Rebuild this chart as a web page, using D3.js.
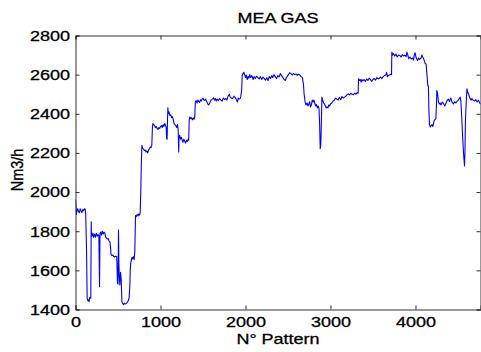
<!DOCTYPE html>
<html>
<head>
<meta charset="utf-8">
<script src="https://cdn.jsdelivr.net/npm/d3@7/dist/d3.min.js"></script>
<style>
  html, body { margin: 0; padding: 0; background: #fff; }
  svg { display: block; }
  text { font-family: "Liberation Sans", Arial, Helvetica, sans-serif; fill: #000; stroke: #000; stroke-width: 0.3px; }
</style>
</head>
<body>
<svg id="chart" width="481" height="352"></svg>
<script>
// MEA gas flow rate per pattern index
const patternIdx = [
  0, 5, 10, 16, 25, 35, 45, 55, 65, 75, 85, 95, 105, 114, 120, 126, 130, 137, 145, 152,
  160, 168, 175, 180, 185, 188, 195, 205, 215, 225, 235, 245, 255, 265, 275, 283, 288, 295, 305, 315,
  325, 335, 345, 355, 365, 375, 385, 395, 405, 412, 418, 428, 440, 455, 470, 485, 490, 494, 500, 506,
  510, 516, 522, 530, 538, 546, 555, 565, 575, 585, 595, 605, 615, 624, 632, 640, 644, 650, 656, 663,
  670, 680, 690, 698, 706, 715, 725, 735, 745, 755, 761, 768, 775, 781, 790, 800, 810, 820, 830, 840,
  850, 860, 870, 880, 890, 898, 905, 910, 920, 930, 940, 950, 960, 970, 980, 990, 1000, 1010, 1020, 1030,
  1040, 1050, 1060, 1067, 1072, 1078, 1083, 1087, 1092, 1100, 1110, 1120, 1130, 1140, 1150, 1160, 1170, 1180, 1190, 1200,
  1208, 1214, 1218, 1225, 1235, 1245, 1255, 1265, 1275, 1285, 1295, 1305, 1315, 1325, 1332, 1338, 1345, 1355, 1365, 1375,
  1385, 1395, 1403, 1410, 1420, 1430, 1440, 1450, 1460, 1470, 1480, 1490, 1500, 1510, 1520, 1530, 1545, 1555, 1565, 1575,
  1585, 1595, 1610, 1624, 1635, 1645, 1655, 1665, 1680, 1695, 1710, 1725, 1740, 1755, 1770, 1781, 1795, 1810, 1820, 1835,
  1850, 1865, 1880, 1895, 1905, 1915, 1925, 1938, 1945, 1955, 1961, 1970, 1980, 1990, 2000, 2010, 2020, 2030, 2040, 2050,
  2060, 2075, 2090, 2100, 2115, 2130, 2145, 2160, 2175, 2190, 2205, 2220, 2235, 2250, 2265, 2280, 2295, 2310, 2320, 2335,
  2350, 2365, 2380, 2395, 2410, 2425, 2440, 2455, 2470, 2480, 2490, 2505, 2520, 2535, 2550, 2565, 2580, 2595, 2610, 2625,
  2640, 2655, 2670, 2682, 2690, 2702, 2712, 2725, 2735, 2745, 2755, 2765, 2775, 2785, 2795, 2805, 2815, 2825, 2835, 2845,
  2855, 2865, 2872, 2879, 2885, 2890, 2895, 2899, 2910, 2920, 2930, 2940, 2950, 2960, 2970, 2980, 2990, 3000, 3015, 3030,
  3045, 3060, 3075, 3090, 3105, 3120, 3135, 3150, 3165, 3180, 3195, 3210, 3225, 3240, 3255, 3270, 3285, 3300, 3315, 3325,
  3330, 3340, 3350, 3360, 3370, 3380, 3395, 3410, 3425, 3440, 3455, 3470, 3485, 3500, 3515, 3530, 3545, 3560, 3575, 3590,
  3605, 3620, 3635, 3650, 3660, 3670, 3680, 3695, 3710, 3718, 3722, 3730, 3740, 3755, 3770, 3785, 3800, 3815, 3830, 3845,
  3860, 3875, 3890, 3900, 3910, 3920, 3935, 3950, 3965, 3977, 3985, 3995, 4005, 4015, 4025, 4035, 4050, 4065, 4075, 4085,
  4095, 4105, 4114, 4125, 4135, 4145, 4152, 4158, 4165, 4175, 4185, 4195, 4205, 4212, 4220, 4230, 4240, 4248, 4251, 4260,
  4270, 4280, 4290, 4300, 4315, 4330, 4345, 4360, 4375, 4388, 4400, 4415, 4430, 4445, 4460, 4475, 4490, 4505, 4515, 4526,
  4535, 4546, 4555, 4566, 4577, 4582, 4588, 4596, 4605, 4615, 4625, 4640, 4655, 4664, 4680, 4695, 4710, 4725, 4740, 4755,
  4770
];

const gasFlow = [
  1962, 1930, 1885, 1900, 1915, 1900, 1895, 1914, 1905, 1895, 1910, 1905, 1915, 1912, 1890, 1775, 1700, 1457, 1445, 1450,
  1440, 1462, 1460, 1458, 1848, 1780, 1775, 1790, 1768, 1785, 1770, 1790, 1775, 1782, 1778, 1516, 1790, 1795, 1780, 1800,
  1785, 1795, 1790, 1770, 1765, 1760, 1762, 1750, 1745, 1720, 1680, 1675, 1678, 1668, 1672, 1670, 1600, 1534, 1530, 1806,
  1640, 1560, 1525, 1590, 1550, 1440, 1430, 1425, 1432, 1428, 1430, 1435, 1440, 1448, 1465, 1530, 1600, 1640, 1650, 1665,
  1658, 1670, 1655, 1700, 1880, 1875, 1885, 1878, 1888, 1882, 1895, 2000, 2150, 2239, 2225, 2220, 2212, 2215, 2205, 2210,
  2200, 2215, 2222, 2230, 2228, 2240, 2330, 2350, 2345, 2340, 2330, 2335, 2325, 2320, 2330, 2325, 2335, 2340, 2330, 2345,
  2335, 2350, 2340, 2330, 2275, 2270, 2380, 2431, 2400, 2410, 2390, 2395, 2380, 2385, 2370, 2350, 2345, 2340, 2330, 2345,
  2320, 2205, 2280, 2290, 2270, 2280, 2265, 2255, 2270, 2260, 2250, 2265, 2258, 2270, 2265, 2370, 2383, 2375, 2380, 2370,
  2378, 2372, 2385, 2460, 2468, 2455, 2470, 2462, 2458, 2472, 2465, 2475, 2480, 2470, 2468, 2475, 2462, 2452, 2445, 2450,
  2462, 2470, 2475, 2482, 2470, 2478, 2465, 2475, 2468, 2478, 2470, 2465, 2480, 2472, 2478, 2470, 2490, 2500, 2485, 2480,
  2478, 2490, 2482, 2470, 2460, 2480, 2475, 2478, 2490, 2520, 2596, 2605, 2612, 2600, 2585, 2598, 2575, 2590, 2582, 2600,
  2585, 2595, 2575, 2590, 2580, 2592, 2584, 2578, 2590, 2575, 2588, 2580, 2572, 2584, 2570, 2590, 2580, 2595, 2585, 2600,
  2590, 2580, 2595, 2588, 2605, 2595, 2585, 2575, 2570, 2585, 2590, 2600, 2610, 2605, 2598, 2606, 2600, 2604, 2596, 2602,
  2598, 2590, 2585, 2550, 2500, 2460, 2445, 2455, 2440, 2450, 2462, 2435, 2445, 2470, 2460, 2470, 2455, 2440, 2448, 2430,
  2440, 2426, 2350, 2222, 2240, 2300, 2400, 2485, 2465, 2455, 2450, 2440, 2430, 2435, 2430, 2445, 2440, 2450, 2455, 2465,
  2470, 2480, 2475, 2470, 2485, 2472, 2488, 2480, 2485, 2490, 2498, 2502, 2496, 2505, 2500, 2498, 2505, 2500, 2508, 2505,
  2579, 2570, 2575, 2562, 2575, 2568, 2575, 2565, 2578, 2570, 2582, 2575, 2565, 2575, 2580, 2572, 2585, 2578, 2582, 2588,
  2580, 2590, 2595, 2598, 2612, 2590, 2595, 2598, 2602, 2600, 2715, 2700, 2708, 2695, 2705, 2690, 2700, 2698, 2690, 2702,
  2695, 2700, 2692, 2715, 2700, 2682, 2690, 2680, 2685, 2675, 2700, 2712, 2690, 2680, 2672, 2685, 2678, 2685, 2700, 2690,
  2682, 2670, 2656, 2656, 2600, 2545, 2540, 2420, 2345, 2332, 2340, 2345, 2335, 2350, 2365, 2370, 2375, 2460, 2519, 2505,
  2460, 2450, 2455, 2445, 2460, 2452, 2440, 2455, 2470, 2475, 2462, 2480, 2460, 2450, 2462, 2455, 2465, 2470, 2478, 2485,
  2460, 2366, 2280, 2196, 2134, 2200, 2366, 2450, 2528, 2510, 2500, 2480, 2470, 2478, 2468, 2465, 2472, 2460, 2470, 2455,
  2450
];

const xTicks = [0, 1000, 2000, 3000, 4000];
const yTicks = [1400, 1600, 1800, 2000, 2200, 2400, 2600, 2800];
const xDomain = [0, 4765];
const yDomain = [1400, 2800];

const titleText = "MEA GAS";
const xLabel = "N° Pattern";
const yLabel = "Nm3/h";

const svg = d3.select("#chart");
const box = { left: 75.5, right: 480.5, top: 35.5, bottom: 309.5 };
const stretch = 1.2; // horizontal widening of the label glyphs
const axisColor = "#333";

const x = d3.scaleLinear().domain(xDomain).range([box.left, box.right]);
const y = d3.scaleLinear().domain(yDomain).range([box.bottom, box.top]);

const points = patternIdx.map((p, i) => [p, gasFlow[i]]);

// data line, clipped to the axes box
svg.append("clipPath").attr("id", "plotClip")
  .append("rect").attr("x", box.left).attr("y", box.top - 1)
  .attr("width", box.right - box.left).attr("height", box.bottom - box.top + 2);

svg.append("path")
  .datum(points)
  .attr("clip-path", "url(#plotClip)")
  .attr("fill", "none")
  .attr("stroke", "#0000ff")
  .attr("stroke-width", 1.1)
  .attr("stroke-linejoin", "round")
  .attr("d", d3.line().x(d => x(d[0])).y(d => y(d[1])));

// axes with inward ticks on all four sides
const tickLen = 4;
const gx = svg.append("g").attr("transform", `translate(0,${box.bottom})`)
  .call(d3.axisBottom(x).tickValues(xTicks).tickSize(-tickLen).tickFormat(d3.format("d")));
const gxTop = svg.append("g").attr("transform", `translate(0,${box.top})`)
  .call(d3.axisTop(x).tickValues(xTicks).tickSize(-tickLen).tickFormat(""));
const gy = svg.append("g").attr("transform", `translate(${box.left},0)`)
  .call(d3.axisLeft(y).tickValues(yTicks).tickSize(-tickLen).tickFormat(d3.format("d")));
const gyRight = svg.append("g").attr("transform", `translate(${box.right},0)`)
  .call(d3.axisRight(y).tickValues(yTicks).tickSize(-tickLen).tickFormat(""));

[gx, gxTop, gy, gyRight].forEach(g => {
  g.selectAll("path.domain").attr("stroke", axisColor).attr("stroke-width", 1);
  g.selectAll(".tick line").attr("stroke", axisColor).attr("stroke-width", 1);
});

gx.selectAll(".tick text")
  .attr("font-size", 15)
  .attr("font-family", "Liberation Sans, Arial, sans-serif")
  .attr("fill", "#000")
  .attr("y", 17.2).attr("dy", 0)
  .attr("transform", `scale(${stretch},1)`);

gy.selectAll(".tick text")
  .attr("font-size", 15)
  .attr("font-family", "Liberation Sans, Arial, sans-serif")
  .attr("fill", "#000")
  .attr("x", -5.5 / stretch)
  .attr("transform", `scale(${stretch},1)`);

// titles
svg.append("text")
  .attr("transform", `translate(${(box.left + box.right) / 2},23.3) scale(${stretch},1)`)
  .attr("text-anchor", "middle")
  .attr("font-size", 15)
  .text(titleText);

svg.append("text")
  .attr("transform", `translate(${(box.left + box.right) / 2},344) scale(${stretch},1)`)
  .attr("text-anchor", "middle")
  .attr("font-size", 15)
  .text(xLabel);

svg.append("text")
  .attr("transform", `translate(22.5,170) rotate(-90) scale(1,${stretch})`)
  .attr("text-anchor", "middle")
  .attr("font-size", 14.5)
  .text(yLabel);
</script>
</body>
</html>
